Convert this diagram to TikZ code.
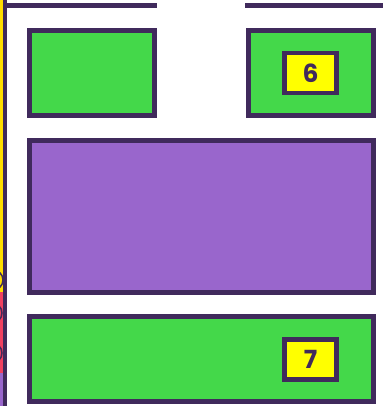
\documentclass[tikz,border=0pt]{standalone}
\usepackage{fontspec}
\setmainfont{Poppins}
\definecolor{ink}{RGB}{64,42,92}
\definecolor{leaf}{RGB}{68,216,74}
\definecolor{violet}{RGB}{153,102,204}
\definecolor{lemon}{RGB}{255,255,0}
\definecolor{gold}{RGB}{255,221,0}
\definecolor{rose}{RGB}{240,64,96}
\tikzset{
  panel/.style={draw=ink, line width=5pt, inner sep=0pt, outer sep=0pt},
  tag/.style={draw=ink, fill=lemon, line width=4.5pt, inner sep=0pt,
    minimum width=52pt, minimum height=40pt, text=ink,
    font=\fontsize{25}{25}\selectfont\bfseries},
}
\begin{document}
\begin{tikzpicture}[x=1pt,y=-1pt]
\useasboundingbox (0,0) rectangle (383,406);
% left edge fragments
\begin{scope}
\clip (0,0) rectangle (3.5,406);
\fill[gold] (0,0) rectangle (3.5,292);
\fill[rose] (0,292) rectangle (3.5,373);
\fill[violet] (0,373) rectangle (3.5,406);
\draw[ink, line width=1.5pt] (-7,280) circle[radius=10pt];
\draw[ink, line width=1.5pt] (-8,313) circle[radius=10pt];
\draw[ink, line width=1.5pt] (-8,353) circle[radius=10pt];
\end{scope}
\fill[ink] (3,0) rectangle (7,406);
% top lines
\coordinate (tl1) at (3,5.5);
\coordinate (tl2) at (157,5.5);
\coordinate (tr1) at (245,5.5);
\coordinate (tr2) at (383,5.5);
\draw[ink, line width=5pt] (tl1) -- (tl2);
\draw[ink, line width=5pt] (tr1) -- (tr2);
% panels
\node[panel, fill=leaf, minimum width=125pt, minimum height=85pt] (g1) at (92,73) {};
\node[panel, fill=leaf, minimum width=125pt, minimum height=85pt] (g2) at (311,73) {};
\node[tag] (t6) at (310.5,73) {6};
\node[panel, fill=violet, minimum width=344pt, minimum height=152pt] (p) at (201.5,216.5) {};
\node[panel, fill=leaf, minimum width=344pt, minimum height=85pt] (g3) at (201.5,359) {};
\node[tag] (t7) at (310.5,359.5) {7};
\end{tikzpicture}
\end{document}
